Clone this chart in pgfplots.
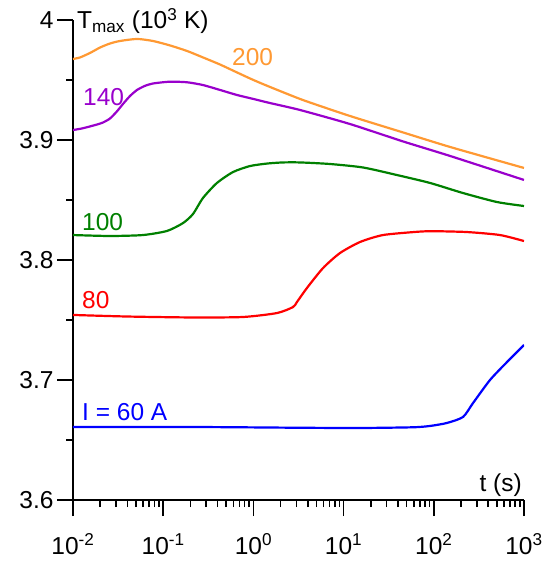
\documentclass[border=0pt]{standalone}
\usepackage{fontspec}
\setmainfont{Liberation Sans}
\usepackage{pgfplots}
\pgfplotsset{compat=1.18}

\definecolor{c200}{RGB}{255,153,51}
\definecolor{c140}{RGB}{153,0,204}
\definecolor{c100}{RGB}{0,128,0}
\definecolor{c80}{RGB}{255,0,0}
\definecolor{c60}{RGB}{0,0,255}

\begin{document}
\begin{tikzpicture}[font=\fontsize{24.5bp}{29bp}\selectfont]
\begin{axis}[
    name=ax,
    scale only axis,
    width=451bp, height=480bp,
    xmode=log,
    xmin=0.01, xmax=1000,
    ymin=3.6, ymax=4,
    enlargelimits=false,
    axis lines=left,
    axis line style={-, line width=1.8bp},
    every tick/.style={black, line width=1.6bp},
    tick align=outside,
    major tick length=16bp, minor tick length=7bp,
    xtick={0.01,0.1,1,10,100,1000},
    xticklabels={10\textsuperscript{-2},10\textsuperscript{-1},10\textsuperscript{0},10\textsuperscript{1},10\textsuperscript{2},10\textsuperscript{3}},
    xticklabel style={yshift=-14bp},
    ytick={3.6,3.7,3.8,3.9,4},
    yticklabels={3.6,3.7,3.8,3.9,4},
    minor ytick={3.65,3.75,3.85,3.95},
    every axis plot/.append style={line width=2.2bp, smooth, tension=0.4},
]
% I = 200 A
\addplot[c200] coordinates {
(0.01,3.9675) (0.01197,3.9688) (0.01542,3.9725) (0.02000,3.9771) (0.02570,3.9804)
(0.03319,3.9825) (0.05129,3.9842) (0.07709,3.9825) (0.1189,3.9788) (0.1837,3.9742)
(0.2761,3.9688) (0.4266,3.9629) (0.6577,3.9563) (1,3.9500) (1.528,3.9442)
(3.545,3.9333) (11.78,3.9200) (45.60,3.9063) (151.4,3.8942) (1000,3.8767)};
% I = 140 A
\addplot[c140] coordinates {
(0.01,3.9083) (0.01291,3.9098) (0.01845,3.9129) (0.02153,3.9146) (0.02570,3.9179)
(0.03065,3.9238) (0.03581,3.9300) (0.04290,3.9367) (0.05129,3.9417) (0.06230,3.9450)
(0.07709,3.9471) (0.1189,3.9486) (0.1837,3.9481) (0.2761,3.9458) (0.4266,3.9417)
(0.6577,3.9375) (1,3.9342) (1.528,3.9308) (3.289,3.9250) (11.78,3.9133)
(45.60,3.8988) (151.4,3.8867) (1000,3.8667)};
% I = 100 A
\addplot[c100] coordinates {
(0.01,3.8208) (0.02570,3.8200) (0.05970,3.8208) (0.1102,3.8242) (0.1660,3.8308)
(0.2138,3.8383) (0.2761,3.8517) (0.3945,3.8642) (0.5943,3.8733) (0.9162,3.8783)
(1.429,3.8804) (2.128,3.8813) (3.289,3.8813) (7.063,3.8800) (16.41,3.8771)
(39.08,3.8708) (90.78,3.8642) (210.9,3.8558) (502.3,3.8483) (1000,3.8450)};
% I = 80 A
\addplot[c80] coordinates {
(0.01,3.7542) (0.03972,3.7529) (0.2138,3.7521) (0.7674,3.7525) (1.828,3.7558)
(2.748,3.7608) (3.041,3.7650) (3.926,3.7767) (5.916,3.7933) (9.120,3.8058)
(15.21,3.8150) (27.35,3.8208) (65.16,3.8235) (97.95,3.8240) (233.3,3.8233)
(542.0,3.8208) (1000,3.8158)};
% I = 60 A
\addplot[c60] coordinates {
(0.01,3.6608) (0.2559,3.6608) (3.289,3.6602) (15.21,3.6600) (58.75,3.6606)
(90.78,3.6617) (140.0,3.6642) (210.9,3.6692) (272.3,3.6808) (419.8,3.7000)
(648.6,3.7150) (1000,3.7292)};

\node[c200, anchor=west, inner sep=0pt] at (axis cs:0.579,3.969) {200};
\node[c140, anchor=west, inner sep=0pt] at (axis cs:0.01291,3.9354) {140};
\node[c100, anchor=west, inner sep=0pt] at (axis cs:0.01259,3.8313) {100};
\node[c80, anchor=west, inner sep=0pt] at (axis cs:0.01259,3.7667) {80};
\node[c60, anchor=west, inner sep=0pt] at (axis cs:0.01259,3.6733) {I = 60 A};
\end{axis}
\node[anchor=base west, inner sep=0pt] at ([xshift=4bp,yshift=-9bp]ax.north west) {T\textsubscript{max} (10\textsuperscript{3} K)};
\node[anchor=south east, inner sep=0pt] at ([xshift=-2bp,yshift=3bp]ax.south east) {t (s)};
\pgfresetboundingbox
\path[use as bounding box] ([xshift=-73bp,yshift=-62bp]ax.south west) rectangle ([xshift=27bp,yshift=20bp]ax.north east);
\end{tikzpicture}
\end{document}
